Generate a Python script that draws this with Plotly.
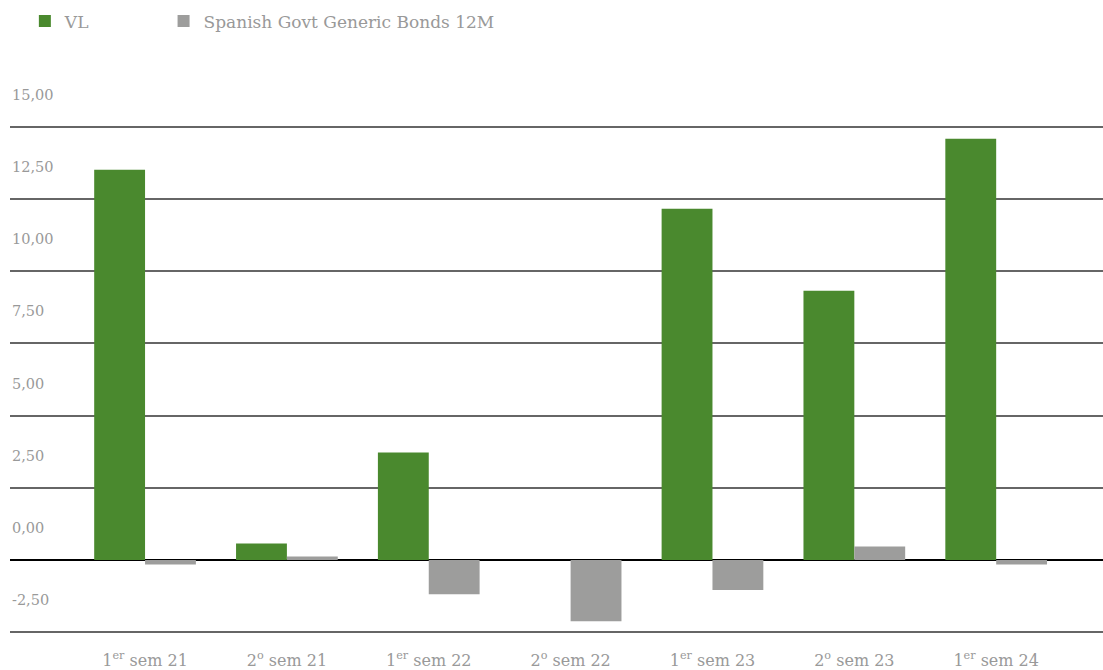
import plotly.graph_objects as go

categories = ["1<sup>er</sup> sem 21", "2<sup>o</sup> sem 21", "1<sup>er</sup> sem 22", "2<sup>o</sup> sem 22",
              "1<sup>er</sup> sem 23", "2<sup>o</sup> sem 23", "1<sup>er</sup> sem 24"]
vl = [13.51, 0.57, 3.72, 0.0, 12.16, 9.32, 14.58]
bonds = [-0.15, 0.12, -1.18, -2.12, -1.04, 0.47, -0.15]
tick_vals = [-2.5, 0, 2.5, 5, 7.5, 10, 12.5, 15]
tick_text = ["-2,50", "0,00", "2,50", "5,00", "7,50", "10,00", "12,50", "15,00"]

FONT = "DejaVu Serif"
TXT = "#999999"

xs = list(range(len(categories)))
fig = go.Figure()
fig.add_trace(go.Bar(name="VL", x=xs, y=vl, marker_color="#4a892e", marker_line_width=0,
                     legend="legend"))
fig.add_trace(go.Bar(name="Spanish Govt Generic Bonds 12M", x=xs, y=bonds,
                     marker_color="#9d9d9c", marker_line_width=0, legend="legend2"))

leg_common = dict(orientation="h", yref="container", y=0.995, yanchor="top", xref="paper",
                  xanchor="left", font=dict(size=17, color=TXT, family=FONT), itemwidth=30,
                  bgcolor="rgba(0,0,0,0)")

annotations = [
    dict(x=0, xref="paper", xanchor="left", y=v, yref="y", yanchor="middle", yshift=32,
         text=t, showarrow=False, font=dict(size=14.5, color=TXT, family=FONT))
    for v, t in zip(tick_vals, tick_text)
]

fig.update_layout(
    width=1103, height=670,
    margin=dict(l=10, r=0, t=125, b=34),
    plot_bgcolor="white", paper_bgcolor="white",
    barmode="group", bargap=0.283, bargroupgap=0,
    font=dict(family=FONT, color=TXT, size=16),
    legend=dict(x=0.0136, **leg_common),
    legend2=dict(x=0.1405, **leg_common),
    showlegend=True,
    annotations=annotations,
)
fig.update_xaxes(
    tickmode="array", tickvals=xs, ticktext=categories,
    range=[-0.952, 6.753], showgrid=False, zeroline=False, showline=False,
    ticks="", ticklabelstandoff=15, tickfont=dict(size=16, color=TXT, family=FONT),
)
fig.update_yaxes(
    range=[-2.56, 15.06], tickmode="array", tickvals=tick_vals,
    showgrid=True, gridcolor="#666666", gridwidth=1.5,
    zeroline=True, zerolinecolor="#000000", zerolinewidth=1.6,
    showticklabels=False, showline=False, ticks="",
)

fig.write_html("out.html")
